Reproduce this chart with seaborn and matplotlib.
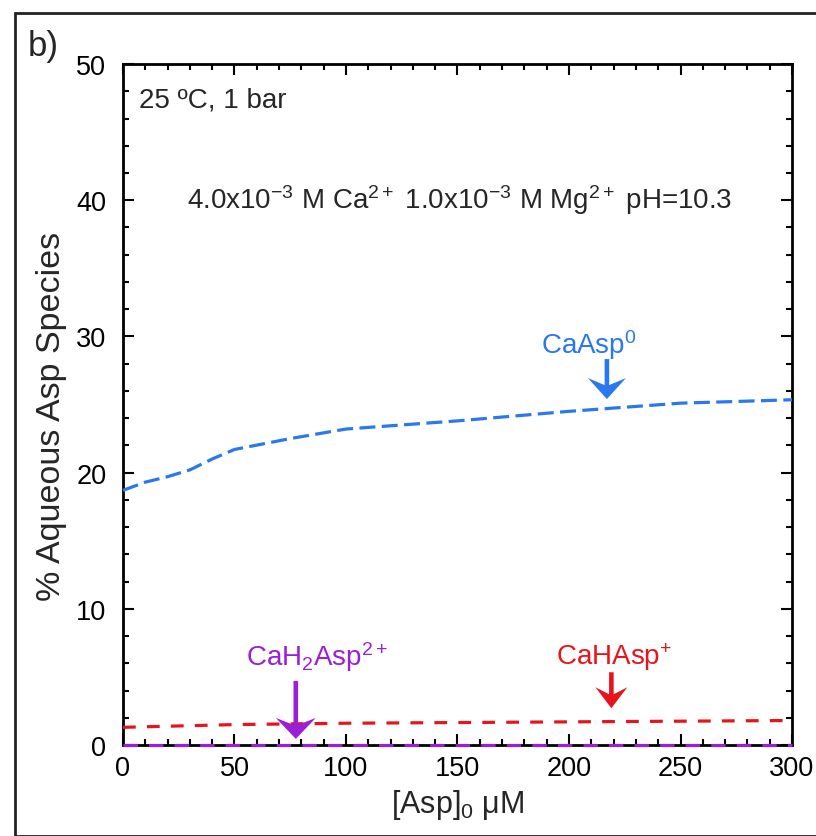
import numpy as np
import pandas as pd
import matplotlib
matplotlib.use('Agg')
import matplotlib.pyplot as plt
import matplotlib.patches as mpatches
import matplotlib.transforms as mtransforms
from matplotlib.ticker import MultipleLocator
import seaborn as sns

# ── Data ──────────────────────────────────────────────────────────────────────
asp_ca = [0, 10, 20, 30, 40, 50, 75, 100, 150, 200, 250, 300]
ca_asp0 = [18.7, 19.3, 19.7, 20.2, 21.0, 21.7, 22.5, 23.2, 23.8, 24.5, 25.1, 25.35]

asp_cah = [0, 50, 100, 150, 200, 250, 300]
ca_hasp = [1.3, 1.5, 1.6, 1.65, 1.7, 1.75, 1.8]

asp_cah2 = [0, 50, 100, 150, 200, 250, 300]
ca_h2asp = [0.02, 0.02, 0.02, 0.02, 0.02, 0.02, 0.02]

species = ['CaAsp0', 'CaHAsp+', 'CaH2Asp2+']
colors = {'CaAsp0': '#2a78ee', 'CaHAsp+': '#e8141c', 'CaH2Asp2+': '#9a1fd6'}
dash_map = {'CaAsp0': (5, 2), 'CaHAsp+': (4, 3.5), 'CaH2Asp2+': (4.5, 3.5)}

df = pd.concat([
    pd.DataFrame({'asp': asp_ca, 'pct': ca_asp0, 'species': species[0]}),
    pd.DataFrame({'asp': asp_cah, 'pct': ca_hasp, 'species': species[1]}),
    pd.DataFrame({'asp': asp_cah2, 'pct': ca_h2asp, 'species': species[2]}),
])

# ── Style ─────────────────────────────────────────────────────────────────────
sns.set_style('ticks')
plt.rcParams['font.family'] = ['Liberation Sans', 'DejaVu Sans']
plt.rcParams['mathtext.fontset'] = 'custom'
plt.rcParams['mathtext.rm'] = 'Liberation Sans'
plt.rcParams['mathtext.it'] = 'Liberation Sans:italic'
plt.rcParams['mathtext.bf'] = 'Liberation Sans:bold'

fig = plt.figure(figsize=(8.16, 8.37), dpi=100)
ax = fig.add_axes([0.1507, 0.1087, 0.8199, 0.8136])

sns.lineplot(data=df, x='asp', y='pct', hue='species', style='species',
             palette=colors, dashes=dash_map,
             linewidth=2.3, legend=False, ax=ax, clip_on=False, zorder=4)

ax.set_xlim(0, 300)
ax.set_ylim(0, 50)
ax.xaxis.set_major_locator(MultipleLocator(50))
ax.xaxis.set_minor_locator(MultipleLocator(10))
ax.yaxis.set_major_locator(MultipleLocator(10))
ax.yaxis.set_minor_locator(MultipleLocator(2))
ax.tick_params(which='both', direction='in', top=True, right=True, width=1.5, colors='black')
ax.tick_params(which='major', length=8, labelsize=19.5)
ax.tick_params(which='minor', length=4.5)
ax.tick_params(axis='x', which='major', pad=7)
ax.tick_params(axis='y', which='major', pad=12)
for sp in ax.spines.values():
    sp.set_linewidth(2)
    sp.set_color('black')

ax.set_xlabel(r'[Asp]$_\mathregular{0}$ μM', fontsize=22)
ax.set_ylabel('% Aqueous Asp Species', fontsize=24.5)
ax.xaxis.set_label_coords(0.5007, -0.062)
ax.yaxis.set_label_coords(-0.084, 0.4846)

# ── Annotations ───────────────────────────────────────────────────────────────
ax.text(7, 47.4, '25 ºC, 1 bar', fontsize=20, ha='left', va='center')
ax.text(151, 40.1,
        r'4.0x10$^\mathregular{-3}$ M Ca$^\mathregular{2+}$ 1.0x10$^\mathregular{-3}$ M Mg$^\mathregular{2+}$ pH=10.3',
        fontsize=20, ha='center', va='center')


def notched_arrow(x, y, length, half_w, color, head_len=21, notch=7, shaft=2.3):
    # arrow pointing down, tip at data point (x, y); sizes in pixels
    px = np.array([
        (0, 0), (half_w, head_len), (shaft, head_len - notch), (shaft, length),
        (-shaft, length), (-shaft, head_len - notch), (-half_w, head_len),
    ]) / 100.0
    trans = fig.dpi_scale_trans + mtransforms.ScaledTranslation(x, y, ax.transData)
    ax.add_patch(mpatches.Polygon(px, closed=True, facecolor=color, edgecolor='none',
                                  transform=trans, clip_on=False, zorder=5))


# label text, key, text x, text y, arrow x, arrow tip y, arrow length, head half width
labels = [
    (r'CaAsp$^\mathregular{0}$', 'CaAsp0', 209, 29.4, 217, 25.4, 40, 19),
    (r'CaHAsp$^\mathregular{+}$', 'CaHAsp+', 220, 6.5, 219, 2.7, 36, 16),
    (r'CaH$_\mathregular{2}$Asp$^\mathregular{2+}$', 'CaH2Asp2+', 87, 6.5, 77.5, 0.45, 58, 20),
]
for txt, key, tx, ty, axx, tip, length, hw in labels:
    ax.text(tx, ty, txt, fontsize=20, color=colors[key], ha='center', va='center')
    notched_arrow(axx, tip, length, hw, colors[key])

fig.text(0.034, 0.945, 'b)', fontsize=25, ha='left', va='center')

# frame around the panel
fig.patches.append(mpatches.Rectangle((15 / 816, 0), 1.2, 1 - 14 / 837,
                                      transform=fig.transFigure, fill=False,
                                      edgecolor='#222222', linewidth=2))

plt.savefig('out.png', dpi=100)
